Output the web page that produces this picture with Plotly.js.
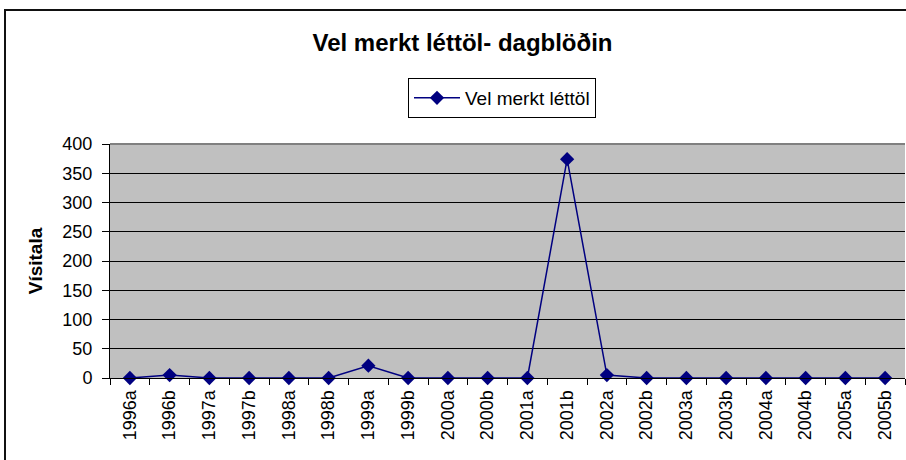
<!DOCTYPE html>
<html>
<head>
<meta charset="utf-8">
<script src="https://cdn.plot.ly/plotly-3.0.1.min.js"></script>
<style>
  html, body { margin: 0; padding: 0; background: #fff; }
  #wrap { position: relative; width: 906px; height: 460px; overflow: hidden; }
  #chart { width: 906px; height: 460px; }
  #frame { position: absolute; left: 4px; top: 9px; width: 910px; height: 470px;
           border-left: 2px solid #111; border-top: 2px solid #111; pointer-events: none; }
</style>
</head>
<body>
<div id="wrap">
  <div id="chart"></div>
  <div id="frame"></div>
</div>
<script>
const categories = ["1996a","1996b","1997a","1997b","1998a","1998b","1999a","1999b","2000a","2000b",
                    "2001a","2001b","2002a","2002b","2003a","2003b","2004a","2004b","2005a","2005b"];
const values = [0, 5, 0, 0, 0, 0, 21, 0, 0, 0, 0, 374, 5, 0, 0, 0, 0, 0, 0, 0];
const seriesName = "Vel merkt léttöl";
const chartTitle = "Vel merkt léttöl- dagblöðin";
const yTitle = "Vísitala";
const yTicks = [0, 50, 100, 150, 200, 250, 300, 350, 400];

const font = "Liberation Sans, Arial, sans-serif";

const trace = {
  x: categories,
  y: values,
  name: seriesName,
  type: "scatter",
  mode: "lines+markers",
  line: { color: "#000080", width: 1.5 },
  marker: { symbol: "diamond", size: 11, color: "#000080" },
  cliponaxis: false
};

const layout = {
  width: 906,
  height: 460,
  margin: { l: 110, r: 1, t: 144, b: 82 },
  paper_bgcolor: "#ffffff",
  plot_bgcolor: "#c0c0c0",
  font: { family: font, color: "#000000", size: 18 },
  title: {
    text: "<b>" + chartTitle + "</b>",
    font: { family: font, size: 24, color: "#000" },
    x: 0.5105, xref: "container", xanchor: "center",
    y: 1 - 43 / 460, yref: "container", yanchor: "middle"
  },
  showlegend: true,
  legend: {
    x: (408 - 110) / 795, y: (378 - 78) / 234,
    xanchor: "left", yanchor: "top",
    bgcolor: "#ffffff", bordercolor: "#000000", borderwidth: 1,
    font: { family: font, size: 19, color: "#000" },
    itemwidth: 46
  },
  xaxis: {
    type: "category",
    range: [-0.5, categories.length - 0.5],
    tickangle: -90,
    ticks: "outside",
    tickson: "boundaries",
    ticklen: 6,
    tickcolor: "#000",
    ticklabelstandoff: 4,
    showgrid: false,
    showline: true,
    linecolor: "#000",
    linewidth: 1,
    tickfont: { family: font, size: 18, color: "#000" },
    zeroline: false
  },
  yaxis: {
    range: [0, 400],
    tickvals: yTicks,
    ticktext: yTicks.map(String),
    ticks: "outside",
    ticklen: 7,
    tickcolor: "#000",
    ticklabelstandoff: 6,
    showline: true,
    linecolor: "#000",
    linewidth: 1,
    showgrid: true,
    gridcolor: "#000000",
    gridwidth: 1,
    zeroline: false,
    tickfont: { family: font, size: 18, color: "#000" },
    title: { text: "<b>" + yTitle + "</b>", font: { family: font, size: 19, color: "#000" }, standoff: 14 }
  },
  shapes: [
    { type: "line", xref: "paper", yref: "paper", x0: 0, x1: 1, y0: 1, y1: 1,
      line: { color: "#808080", width: 2 } }
  ]
};

Plotly.newPlot("chart", [trace], layout, { displayModeBar: false, staticPlot: true });
</script>
</body>
</html>
